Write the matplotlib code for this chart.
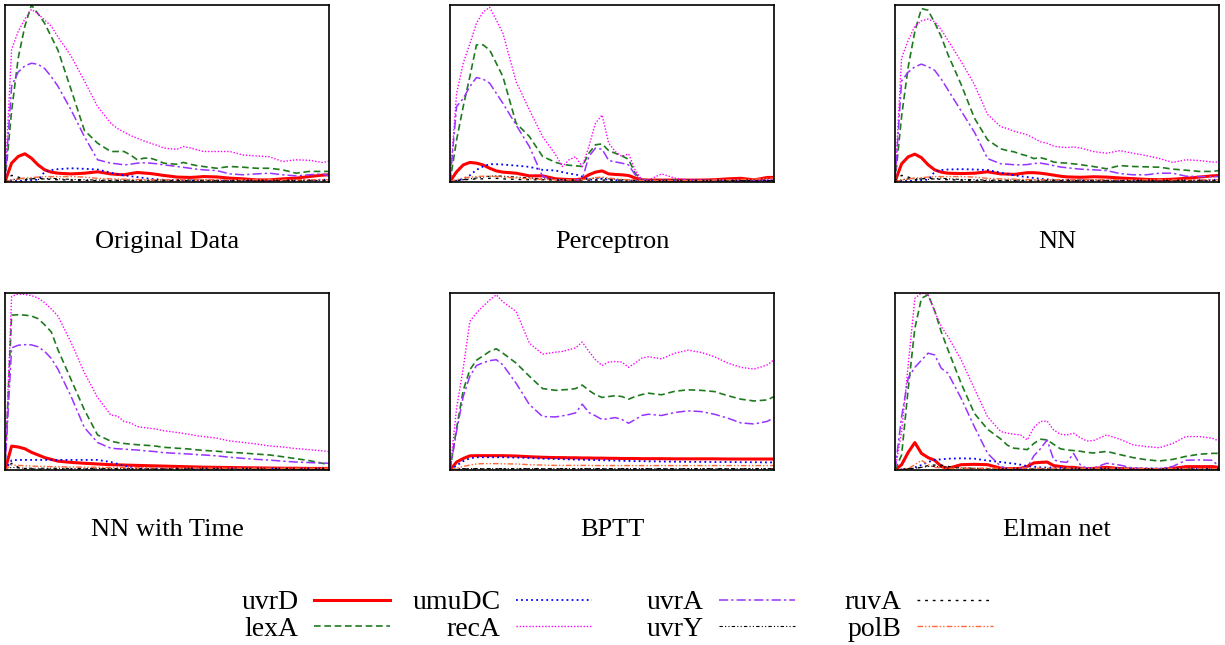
import matplotlib.pyplot as plt

plt.rcParams['font.family'] = ['Liberation Serif', 'DejaVu Serif']

# time points (sample index) shared by every series
t = [0, 1, 2, 3, 4, 5, 6, 7, 8, 10, 12, 14, 16, 17, 18, 19, 20, 21, 22, 23,
     24, 25, 26, 27, 28, 29, 30, 32, 34, 36, 38, 40, 42, 44, 46, 48, 49]

genes = ["uvrD", "lexA", "umuDC", "recA", "uvrA", "uvrY", "ruvA", "polB"]
titles = ["Original Data", "Perceptron", "NN", "NN with Time", "BPTT", "Elman net"]

# --- Original Data ---
orig_uvrD = [0, 10.4, 14.2, 15.7, 13.2, 9.4, 6.6, 5.3, 4.7, 4.3, 4.7, 5.5, 4.3, 4, 3.8, 4.5, 5.1, 4.8, 4.5,
             4, 3.4, 3, 2.5, 2.4, 2.3, 2.5, 2.8, 2.6, 1.9, 1.5, 0.9, 0.9, 1.5, 1.9, 2.8, 3.6, 3.8]
orig_lexA = [0, 40, 70, 88, 100, 95, 89.6, 82, 74.5, 52, 29, 21.7, 17, 17, 17, 15, 12.3, 13.2, 13.2,
             12, 10.4, 10, 9.8, 10.8, 9.8, 9, 8.5, 7.5, 8.5, 8.1, 7.5, 7.5, 6.6, 4.7, 5.7, 5.7, 5.7]
orig_umuDC = [0, 0.3, 0.3, 0.5, 0.8, 1, 5.5, 6.5, 7, 7.5, 7.2, 6.8, 5, 4.2, 3.5, 3, 2.5, 2, 1.5,
              1.2, 1, 0.9, 0.8, 0.7, 0.6, 0.6, 0.5, 0.5, 0.5, 0.5, 0.5, 0.5, 0.5, 0.5, 0.8, 1, 1]
orig_recA = [0, 75, 85, 92, 97.5, 95, 91.5, 88, 82, 71, 57, 42.5, 33, 30, 28, 26, 24.5, 23, 21.7,
             20.5, 19, 18.5, 18.3, 19.8, 19, 18, 17, 17, 17, 15, 14.5, 14, 11.3, 12.3, 12, 10.8, 11.5]
orig_uvrA = [0, 54, 62, 65.5, 67, 66.4, 64, 59.4, 54, 40.5, 25.5, 12.3, 10.4, 10, 9.4, 9.8, 10.4, 10.6,
             10.4, 10, 9.4, 9, 8.5, 8, 7.5, 7, 6.6, 6.2, 4.3, 3.8, 4.3, 4.7, 3.8, 3.2, 3.8, 4.3, 3.2]
orig_uvrY = [0, 1, 1.5, 1.5, 1.5, 1.2, 1.5, 2, 1.5, 1.2, 1, 0.8, 0.8, 0.8, 0.8, 0.8, 0.8, 0.8, 0.8,
             0.8, 0.8, 0.8, 0.8, 0.8, 0.8, 0.8, 0.8, 0.6, 0.6, 0.6, 0.6, 0.6, 0.6, 0.6, 0.6, 0.6, 0.6]
orig_ruvA = [0, 3.5, 2.5, 1, 1.5, 2, 1.5, 1.2, 1, 0.8, 0.6, 0.5, 0.5, 0.5, 0.5, 0.5, 0.5, 0.5, 0.5,
             0.5, 0.5, 0.5, 0.5, 0.5, 0.5, 0.5, 0.5, 0.5, 0.5, 0.5, 0.5, 0.5, 0.5, 0.5, 0.5, 0.5, 0.5]
orig_polB = [0, 0.8, 1.5, 2, 2.2, 2.5, 2.8, 2.8, 2.8, 2.8, 2.5, 1.8, 1.5, 1.4, 1.3, 1.2, 1.1, 1, 1,
             1, 1, 1, 1, 1, 1, 1, 1, 1, 1, 1, 1, 1, 1, 1, 1, 1, 1]

# --- Perceptron ---
perc_uvrD = [0, 5.5, 9.4, 10.8, 10.4, 9.4, 7.5, 6, 5.3, 4.7, 3.2, 3.2, 1.5, 1.3, 1.1, 1, 1.5, 3.8, 5.3,
             6, 4.3, 4, 3.8, 3.4, 2, 1, 0.8, 0.8, 0.8, 0.8, 0.8, 1, 1.5, 1.8, 0.9, 2.3, 2.3]
perc_lexA = [0, 23.6, 42.5, 59.4, 77.4, 77.4, 74.5, 67, 59.4, 33, 25.5, 14.2, 10.8, 9.8, 9.2, 8.9, 8.5,
             16, 20.8, 21.3, 17.5, 16, 14.5, 12.6, 4.7, 0.9, 0.5, 0.5, 0.8, 0.5, 0.5, 0.5, 0.5, 0.5, 0.5, 0.5, 0.5]
perc_umuDC = [0, 0.5, 1.5, 3.5, 6.6, 8.5, 9.8, 9.8, 9.6, 9, 8.3, 6.6, 6.2, 5.3, 4.5, 4, 2.8, 1, 1,
              1.5, 1, 0.8, 0.6, 0.5, 0.5, 0.5, 0.5, 0.5, 0.5, 0.5, 0.5, 0.5, 0.5, 0.5, 0.5, 0.5, 0.5]
perc_recA = [0, 50, 67, 78, 89.6, 96, 98.7, 91.5, 84, 56.6, 40.6, 25.5, 15, 8.5, 12.3, 14, 8.5, 19.8, 33,
             37.7, 21.7, 17, 14.2, 15.7, 6.6, 0.9, 0.8, 4.3, 1.9, 0.8, 0.8, 0.5, 0.8, 0.5, 0.5, 0.8, 0.8]
perc_uvrA = [0, 42.5, 47, 53.8, 58.9, 58, 55.7, 50, 44.3, 32, 19.8, 2.8, 1, 1, 1, 1, 1.2, 14.2, 18.9,
             18.3, 11.9, 11.1, 10.4, 9.4, 3.8, 0.9, 0.5, 0.5, 0.5, 0.5, 0.5, 0.5, 0.5, 0.5, 0.5, 0.5, 0.5]
perc_uvrY = [0, 0.5, 1, 1.5, 2, 2.5, 3, 3.2, 3, 2.5, 2, 1.5, 1.2, 1, 1, 1, 1, 1.5, 2, 2, 1.5, 1.2,
             1, 0.8, 0.6, 0.5, 0.5, 0.5, 0.5, 0.5, 0.5, 0.5, 0.5, 0.5, 0.5, 0.5, 0.5]
perc_ruvA = [0, 0.5, 1, 1.2, 1.5, 1.5, 1.8, 1.8, 1.5, 1.2, 1, 1, 0.8, 0.8, 0.8, 0.8, 0.8, 0.8, 0.8,
             0.8, 0.8, 0.8, 0.8, 0.8, 0.6, 0.6, 0.6, 0.6, 0.6, 0.6, 0.6, 0.6, 0.6, 0.6, 0.6, 0.6, 0.6]
perc_polB = [0, 1, 2, 2.5, 2.8, 3, 3, 2.8, 2.5, 2, 1.5, 1.2, 1, 1, 1, 1, 1, 1.5, 2.2, 2.5, 2, 1.5,
             1.2, 1, 0.8, 0.6, 0.5, 0.5, 0.5, 0.5, 0.5, 0.8, 1, 1.2, 1.2, 1.9, 1.9]

# --- NN ---
nn_uvrD = [0, 10, 14, 15.5, 13.5, 9.5, 6.6, 5.3, 4.7, 4.5, 4.7, 5.5, 4.3, 4.2, 4, 4.5, 5, 5, 4.7,
           4.2, 3.6, 3, 2.6, 2.5, 2.4, 2.5, 2.7, 2.5, 2, 1.6, 1.2, 1, 1.3, 1.8, 2.5, 3.2, 3.4]
nn_lexA = [0, 37, 65, 85, 98, 97, 90, 82, 72, 55, 36, 23.6, 18.5, 17.5, 16.8, 15.5, 14.5, 13, 13.5,
           12.5, 11, 10.6, 10.4, 10, 9.6, 9, 8.5, 7.2, 9, 8.5, 8.3, 8.1, 7, 6.4, 5.7, 5.7, 6.2]
nn_umuDC = [0, 0.3, 0.3, 0.5, 0.8, 1, 5.5, 6.5, 6.8, 7, 6.8, 6.5, 5, 4.2, 3.5, 3, 2.5, 2, 1.5,
            1.2, 1, 0.9, 0.8, 0.7, 0.6, 0.6, 0.5, 0.5, 0.5, 0.5, 0.5, 0.5, 0.5, 0.5, 0.8, 1, 1]
nn_recA = [0, 70, 80, 88, 91, 92, 90.5, 86, 80, 68, 55, 38, 31, 30, 28.5, 27.5, 26.5, 24.5, 22.5,
           21.7, 20, 19.5, 19.2, 19.6, 19, 18, 17, 16, 17.5, 16, 14.7, 13, 10.8, 12.3, 11.9, 11, 11]
nn_uvrA = [0, 57, 62, 65, 66.5, 65, 63, 58, 52, 40, 28, 13, 10, 9.8, 9.5, 9.4, 9.6, 10.2, 10.4,
           9.8, 9, 8.2, 7.8, 7.4, 7, 6.8, 6.6, 6.2, 4.5, 3.8, 3.8, 4.7, 4.7, 3, 2.8, 2.8, 2.8]
nn_uvrY = [0, 1, 1.5, 1.5, 1.5, 1.2, 1.5, 2, 1.5, 1.2, 1, 0.8, 0.8, 0.8, 0.8, 0.8, 0.8, 0.8, 0.8,
           0.8, 0.8, 0.8, 0.8, 0.8, 0.8, 0.8, 0.8, 0.6, 0.6, 0.6, 0.6, 0.6, 0.6, 0.6, 0.6, 0.6, 0.6]
nn_ruvA = [0, 3.5, 2.5, 1, 1.5, 2, 1.5, 1.2, 1, 0.8, 0.6, 0.5, 0.5, 0.5, 0.5, 0.5, 0.5, 0.5, 0.5,
           0.5, 0.5, 0.5, 0.5, 0.5, 0.5, 0.5, 0.5, 0.5, 0.5, 0.5, 0.5, 0.5, 0.5, 0.5, 0.5, 0.5, 0.5]
nn_polB = [0, 0.8, 1.5, 2, 2.2, 2.5, 2.8, 2.8, 2.8, 2.8, 2.5, 1.8, 1.5, 1.4, 1.3, 1.2, 1.1, 1, 1,
           1, 1, 1, 1, 1, 1, 1, 1, 1, 1, 1, 1, 1, 1, 1, 1, 1, 1]

# --- NN with Time ---
nnt_uvrD = [0, 13.5, 13, 12, 10, 8.5, 7, 6, 5, 4.3, 3.8, 3.4, 3, 2.9, 2.8, 2.7, 2.6, 2.5, 2.4,
            2.3, 2.2, 2.1, 2, 1.9, 1.8, 1.7, 1.6, 1.5, 1.4, 1.3, 1.2, 1.1, 1, 1, 0.9, 0.9, 0.9]
nnt_lexA = [0, 87.5, 87.7, 87.5, 87, 85.5, 82, 78, 68, 51, 34, 19.8, 16.3, 15.5, 15, 14.6, 14.3, 14,
            13.8, 13.4, 12.8, 12.6, 12.3, 12.1, 11.8, 11.4, 11.1, 10.6, 10, 9.6, 9, 8.5, 7.5, 6.4, 5.3, 3.8, 3.2]
nnt_umuDC = [0, 5.5, 5.7, 5.7, 5.7, 5.7, 5.7, 5.7, 5.7, 5.7, 5.7, 5.7, 4.5, 3.5, 2.5, 1.5, 1, 0.9,
             0.8, 0.8, 0.8, 0.8, 0.8, 0.8, 0.8, 0.8, 0.8, 0.8, 0.8, 0.8, 0.8, 0.8, 0.8, 0.8, 0.8, 0.8, 0.8]
nnt_recA = [0, 98, 99.4, 99.2, 98.5, 97.2, 94.5, 91, 87, 72, 55, 41, 31, 30.5, 27.4, 26.6, 24.5, 24,
            23.5, 23, 22.2, 21.7, 21.2, 20.6, 20.1, 19.3, 18.9, 18, 16.4, 15.6, 14.7, 13.6, 13, 12.1, 11.5, 10.8, 10.4]
nnt_uvrA = [0, 69, 70.5, 70.8, 70.7, 69.6, 67, 63, 57, 41.5, 24, 15.5, 12.3, 12, 11.8, 11.5, 11.3,
            10.9, 10.6, 10.3, 9.8, 9.6, 9.4, 9.2, 9, 8.7, 8.5, 8, 7.2, 6.6, 6, 5.6, 5, 4.5, 4.2, 3.9, 3.8]
nnt_uvrY = [0, 1.5, 1.2, 1, 1, 1, 1, 1, 1, 0.9, 0.9, 0.9, 0.8, 0.8, 0.8, 0.8, 0.8, 0.8, 0.8,
            0.8, 0.8, 0.8, 0.8, 0.8, 0.8, 0.8, 0.8, 0.8, 0.8, 0.8, 0.8, 0.8, 0.8, 0.8, 0.8, 0.8, 0.8]
nnt_ruvA = [0, 3.8, 1.5, 0.8, 0.6, 0.5, 0.5, 0.5, 0.5, 0.5, 0.5, 0.5, 0.5, 0.5, 0.5, 0.5, 0.5, 0.5,
            0.5, 0.5, 0.5, 0.5, 0.5, 0.5, 0.5, 0.5, 0.5, 0.5, 0.5, 0.5, 0.5, 0.5, 0.5, 0.5, 0.5, 0.5, 0.5]
nnt_polB = [0, 2.8, 2.6, 2.4, 2.2, 2.1, 2, 1.9, 1.8, 1.7, 1.6, 1.5, 1.4, 1.4, 1.3, 1.3, 1.3, 1.2,
            1.2, 1.2, 1.2, 1.1, 1.1, 1.1, 1.1, 1.1, 1, 1, 1, 1, 1, 1, 1, 1, 1, 1, 1]

# --- BPTT ---
bptt_uvrD = [0, 4.5, 6.5, 8, 8.1, 8.1, 8.1, 8.1, 8.1, 7.9, 7.5, 7.2, 7, 7, 6.9, 6.9, 6.8, 6.8, 6.7,
             6.7, 6.6, 6.6, 6.5, 6.5, 6.5, 6.4, 6.4, 6.4, 6.3, 6.3, 6.3, 6.3, 6.2, 6.2, 6.2, 6.2, 6.2]
bptt_lexA = [0, 23.6, 45, 56.6, 62, 64.5, 67, 68.5, 66, 60.4, 53, 46, 45, 45.3, 45.5, 46, 48, 45,
             42.5, 41, 41.5, 42, 41.5, 40, 41.5, 42.6, 43.4, 42.5, 44.5, 45.3, 45, 44.3, 42, 40, 39, 39.6, 41.5]
bptt_umuDC = [0, 2.5, 5, 6.6, 7.2, 7.2, 7.2, 7.2, 7.2, 7, 6.8, 6.4, 6.2, 6.1, 6, 5.9, 5.8, 5.7, 5.6,
              5.5, 5.4, 5.3, 5.2, 5.1, 5, 5, 4.9, 4.8, 4.7, 4.6, 4.6, 4.5, 4.5, 4.4, 4.4, 4.3, 4.3]
bptt_recA = [0, 35, 57.5, 84, 88.7, 92.5, 96, 99, 95, 89.6, 71.7, 65.5, 66.6, 67, 68, 69, 72.3, 67,
             62.3, 59, 61, 61.3, 61, 58, 60.4, 63.2, 64, 62.8, 66, 67.7, 66.4, 64, 60.4, 58, 57, 59.4, 62.3]
bptt_uvrA = [0, 22, 41.5, 53, 59, 60.6, 61.8, 62.3, 59.4, 49, 37, 30.2, 30, 30.6, 31.3, 32.3, 37.2,
             32.5, 30.6, 28.5, 29, 29.6, 28.5, 26.4, 28.5, 30.8, 31.5, 30.8, 32.5, 33.4, 33, 31.5, 29.3, 26.6, 26, 27.5, 29.6]
bptt_uvrY = [0, 0.5, 0.8, 0.8, 0.8, 0.8, 0.8, 0.8, 0.8, 0.8, 0.8, 0.8, 0.8, 0.8, 0.8, 0.8, 0.8, 0.8,
             0.8, 0.8, 0.8, 0.8, 0.8, 0.8, 0.8, 0.8, 0.8, 0.8, 0.8, 0.8, 0.8, 0.8, 0.8, 0.8, 0.8, 0.8, 0.8]
bptt_ruvA = [0, 0.3, 0.5, 0.6, 0.6, 0.6, 0.6, 0.6, 0.6, 0.6, 0.6, 0.6, 0.6, 0.6, 0.6, 0.6, 0.6, 0.6,
             0.6, 0.6, 0.6, 0.6, 0.6, 0.6, 0.6, 0.6, 0.6, 0.6, 0.6, 0.6, 0.6, 0.6, 0.6, 0.6, 0.6, 0.6, 0.6]
bptt_polB = [0, 1, 2, 2.8, 3.4, 3.6, 3.6, 3.6, 3.5, 3.4, 3, 2.8, 2.6, 2.6, 2.6, 2.6, 2.6, 2.6, 2.5,
             2.5, 2.5, 2.5, 2.5, 2.5, 2.5, 2.5, 2.5, 2.5, 2.5, 2.5, 2.5, 2.5, 2.5, 2.5, 2.5, 2.5, 2.5]

# --- Elman net ---
elm_uvrD = [0, 3, 10, 15.5, 9.4, 7, 5.5, 2, 0.9, 3, 3.2, 3, 1, 0.8, 0.8, 0.9, 2, 4, 4.3, 4.5, 2.5,
            2, 1.5, 1.5, 1, 0.8, 0.9, 1.5, 0.8, 0.5, 0.3, 0.2, 0.9, 1.9, 1.9, 1.9, 1.5]
elm_lexA = [0, 8.5, 46, 80, 97, 99, 90, 78, 68, 49, 32, 23, 17.5, 14, 12.3, 12, 11.5, 15, 17.4, 17,
            14.5, 12, 11.3, 11, 10.6, 10, 9.6, 10.5, 8.7, 7, 5.8, 5.1, 6, 7.7, 8.9, 9.4, 9.4]
elm_umuDC = [0, 0.2, 0.5, 1.5, 2.8, 4.5, 5.7, 6, 6.4, 6.6, 6.4, 5.3, 4.5, 4, 3.6, 3, 2.2, 1.9, 1.5,
             1.4, 1.3, 1.2, 1.1, 1, 1, 1, 1, 1, 1, 0.9, 0.9, 0.8, 0.8, 0.7, 0.7, 0.6, 0.6]
elm_recA = [0, 21.7, 59.4, 97, 100, 99, 89.6, 81, 75.5, 62.3, 46, 30, 21.7, 20.8, 20.2, 19.8, 17, 24,
            27.4, 27.7, 22.6, 20.2, 19.8, 20.8, 18.3, 16.4, 16.6, 19.8, 17.4, 14.2, 13.2, 12.6, 15, 18.9, 18.9, 17.9, 16.4]
elm_uvrA = [0, 30, 52, 58, 62, 66, 65, 57.5, 54.7, 40.5, 24.5, 9.4, 2, 0.8, 0.8, 0.8, 1.5, 8, 12, 17,
            5.7, 4.7, 4.3, 9.4, 3, 1, 1, 3.8, 2.8, 1, 0.8, 0.8, 2, 5.5, 5.7, 5.5, 1.9]
elm_uvrY = [0, 0.5, 0.8, 1, 1.5, 2, 2, 1.8, 1.5, 1.2, 1, 0.8, 0.6, 0.6, 0.6, 0.6, 0.6, 0.6, 0.6,
            0.6, 0.6, 0.6, 0.6, 0.6, 0.6, 0.6, 0.6, 0.6, 0.6, 0.6, 0.6, 0.6, 0.6, 0.6, 0.6, 0.6, 0.6]
elm_ruvA = [0, 0.5, 0.5, 1, 1.5, 2.5, 2.8, 2.8, 2, 1, 0.8, 0.6, 0.5, 0.5, 0.5, 0.5, 0.5, 0.5, 0.5,
            0.5, 0.5, 0.5, 0.5, 0.5, 0.5, 0.5, 0.5, 0.5, 0.5, 0.5, 0.5, 0.5, 0.5, 0.5, 0.5, 0.5, 0.5]
elm_polB = [0, 0.3, 0.8, 3, 5.5, 3, 1.5, 1.2, 1, 1, 1, 1, 1, 1, 1, 1, 1, 1, 1, 1, 1, 1, 1, 1, 1,
            1, 1, 1, 1, 0.8, 0.8, 0.8, 0.8, 0.8, 0.8, 0.8, 0.8]

panels = [
    [orig_uvrD, orig_lexA, orig_umuDC, orig_recA, orig_uvrA, orig_uvrY, orig_ruvA, orig_polB],
    [perc_uvrD, perc_lexA, perc_umuDC, perc_recA, perc_uvrA, perc_uvrY, perc_ruvA, perc_polB],
    [nn_uvrD, nn_lexA, nn_umuDC, nn_recA, nn_uvrA, nn_uvrY, nn_ruvA, nn_polB],
    [nnt_uvrD, nnt_lexA, nnt_umuDC, nnt_recA, nnt_uvrA, nnt_uvrY, nnt_ruvA, nnt_polB],
    [bptt_uvrD, bptt_lexA, bptt_umuDC, bptt_recA, bptt_uvrA, bptt_uvrY, bptt_ruvA, bptt_polB],
    [elm_uvrD, elm_lexA, elm_umuDC, elm_recA, elm_uvrA, elm_uvrY, elm_ruvA, elm_polB],
]

styles = {
    "uvrD": dict(color="#ff0000", ls="-", lw=2.2),
    "lexA": dict(color="#1f7a1f", ls=(0, (4, 2.2)), lw=1.2),
    "umuDC": dict(color="#0000ff", ls=(0, (1, 1.8)), lw=1.3),
    "recA": dict(color="#ff00ff", ls=(0, (1, 1.3)), lw=1.0),
    "uvrA": dict(color="#9933ff", ls=(0, (6, 2, 1.5, 2)), lw=1.1),
    "uvrY": dict(color="black", ls=(0, (3, 2, 1, 2, 1, 2)), lw=0.8),
    "ruvA": dict(color="black", ls=(0, (2, 3.5)), lw=1.0),
    "polB": dict(color="#ff6633", ls=(0, (4, 1.5, 1, 1.5, 1, 1.5)), lw=1.0),
}

fig = plt.figure(figsize=(12.25, 6.45), dpi=100)

lefts = [5 / 1225, 450 / 1225, 895 / 1225]
width = 324 / 1225
rows = [(1 - 181.5 / 645, 176.5 / 645, 1 - 242 / 645), (1 - 470 / 645, 177 / 645, 1 - 530 / 645)]

handles = []
for k, (title, series) in enumerate(zip(titles, panels)):
    bottom, height, ty = rows[k // 3]
    left = lefts[k % 3]
    ax = fig.add_axes([left, bottom, width, height])
    for g, y in zip(genes, series):
        line, = ax.plot(t, y, label=g, **styles[g])
        if k == 0:
            handles.append(line)
    ax.set_xlim(0, 49)
    ax.set_ylim(0, 100)
    ax.set_xticks([])
    ax.set_yticks([])
    for s in ax.spines.values():
        s.set_linewidth(1.2)
    fig.text(left + width / 2, ty, title, ha="center", va="center", fontsize=19)

# legend: one block per column, right edge at the end of the line samples
col_ends = [390, 592, 795, 993]
for c, xe in enumerate(col_ends):
    fig.legend(handles[2 * c:2 * c + 2], genes[2 * c:2 * c + 2], loc="center right",
               bbox_to_anchor=(xe / 1225, 1 - 616 / 645), borderaxespad=0, borderpad=0,
               markerfirst=False, frameon=False, fontsize=20, handlelength=2.75,
               handletextpad=0.55, labelspacing=0.05)

fig.savefig("out.png", dpi=100)
